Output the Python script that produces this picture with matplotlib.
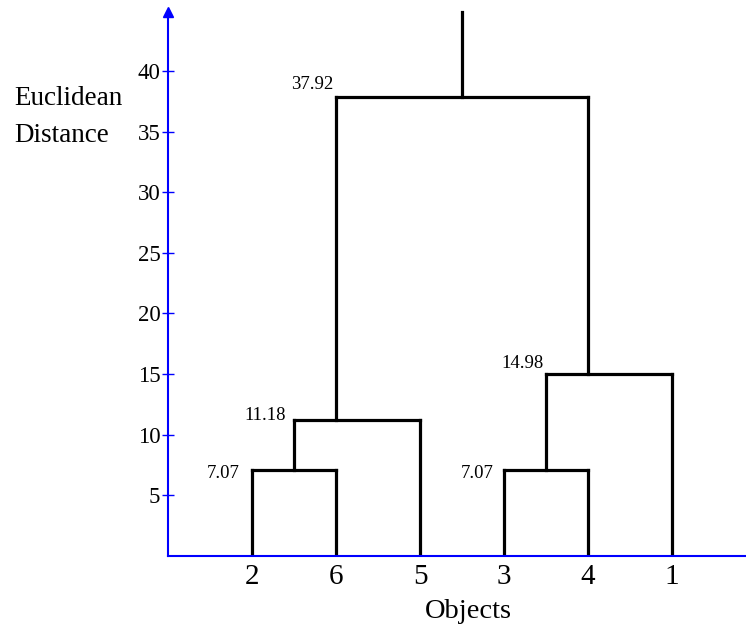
import matplotlib
matplotlib.use("Agg")
import matplotlib.pyplot as plt
import numpy as np

plt.rcParams['font.family'] = ['Liberation Serif', 'DejaVu Serif']

# leaf order along the x axis
leaves = ["2", "6", "5", "3", "4", "1"]
# merges: (left child, right child, height); children are leaf names or merge indices
merges = [
    ("2", "6", 7.07),
    ("3", "4", 7.07),
    (0, "5", 11.18),
    (1, "1", 14.98),
    (2, 3, 37.92),
]
merge_labels = ["7.07", "7.07", "11.18", "14.98", "37.92"]
yticks = [5, 10, 15, 20, 25, 30, 35, 40]

# layout: label offsets (pixels) from the left end of each merge bar
label_offsets = [(-12, -8), (-10, -8), (-8, 0), (-2, 6), (-3, 8)]

YTOP = 44.9
XMAX = 6.88

fig = plt.figure(figsize=(7.46, 6.32), dpi=100)
ax = fig.add_axes([0.2252, 0.1209, 0.7748, 0.860])

pos = {name: i + 1 for i, name in enumerate(leaves)}


def node_info(child):
    # returns stem x, bottom height, member leaves
    if isinstance(child, str):
        return pos[child], 0.0, [child]
    return merge_x[child], merges[child][2], merge_members[child]


merge_x = []
merge_members = []
lw = 2.3
for i, (a, b, h) in enumerate(merges):
    xa, ha, ma = node_info(a)
    xb, hb, mb = node_info(b)
    ax.plot([xa, xa], [ha, h], color="black", lw=lw, solid_capstyle="projecting")
    ax.plot([xb, xb], [hb, h], color="black", lw=lw, solid_capstyle="projecting")
    ax.plot([xa, xb], [h, h], color="black", lw=lw, solid_capstyle="projecting")
    mm = ma + mb
    merge_members.append(mm)
    merge_x.append(np.mean([pos[m] for m in mm]))
    ax.annotate(merge_labels[i], (xa, h), xytext=label_offsets[i],
                textcoords="offset pixels", ha="right", va="baseline", fontsize=13.5)

# stem above the root
ax.plot([merge_x[-1], merge_x[-1]], [merges[-1][2], YTOP], color="black", lw=lw, clip_on=False)

ax.set_xlim(0, XMAX)
ax.set_ylim(0, YTOP)

for side in ["top", "right"]:
    ax.spines[side].set_visible(False)
for side in ["left", "bottom"]:
    ax.spines[side].set_color("blue")
    ax.spines[side].set_linewidth(1.5)

ax.set_yticks(yticks)
ax.set_yticklabels([str(t) for t in yticks], fontsize=16.5)
ax.set_xticks([pos[l] for l in leaves])
ax.set_xticklabels(leaves, fontsize=21)
ax.tick_params(axis="y", direction="inout", length=9, width=1, color="blue", pad=1)
ax.tick_params(axis="x", direction="in", length=4, width=1, color="blue", pad=6)

# arrow head on the y axis
ax.plot([0], [YTOP], marker="^", color="blue", markersize=7, clip_on=False)

ax.set_xlabel("Objects", fontsize=20.5)
ax.xaxis.set_label_coords(0.52, -0.08, transform=ax.transAxes)
ax.xaxis.label.set_va("top")
fig.text(0.019, 0.834, "Euclidean", fontsize=19.5, ha="left", va="baseline")
fig.text(0.019, 0.775, "Distance", fontsize=19.5, ha="left", va="baseline")

fig.savefig("out.png", dpi=100)
